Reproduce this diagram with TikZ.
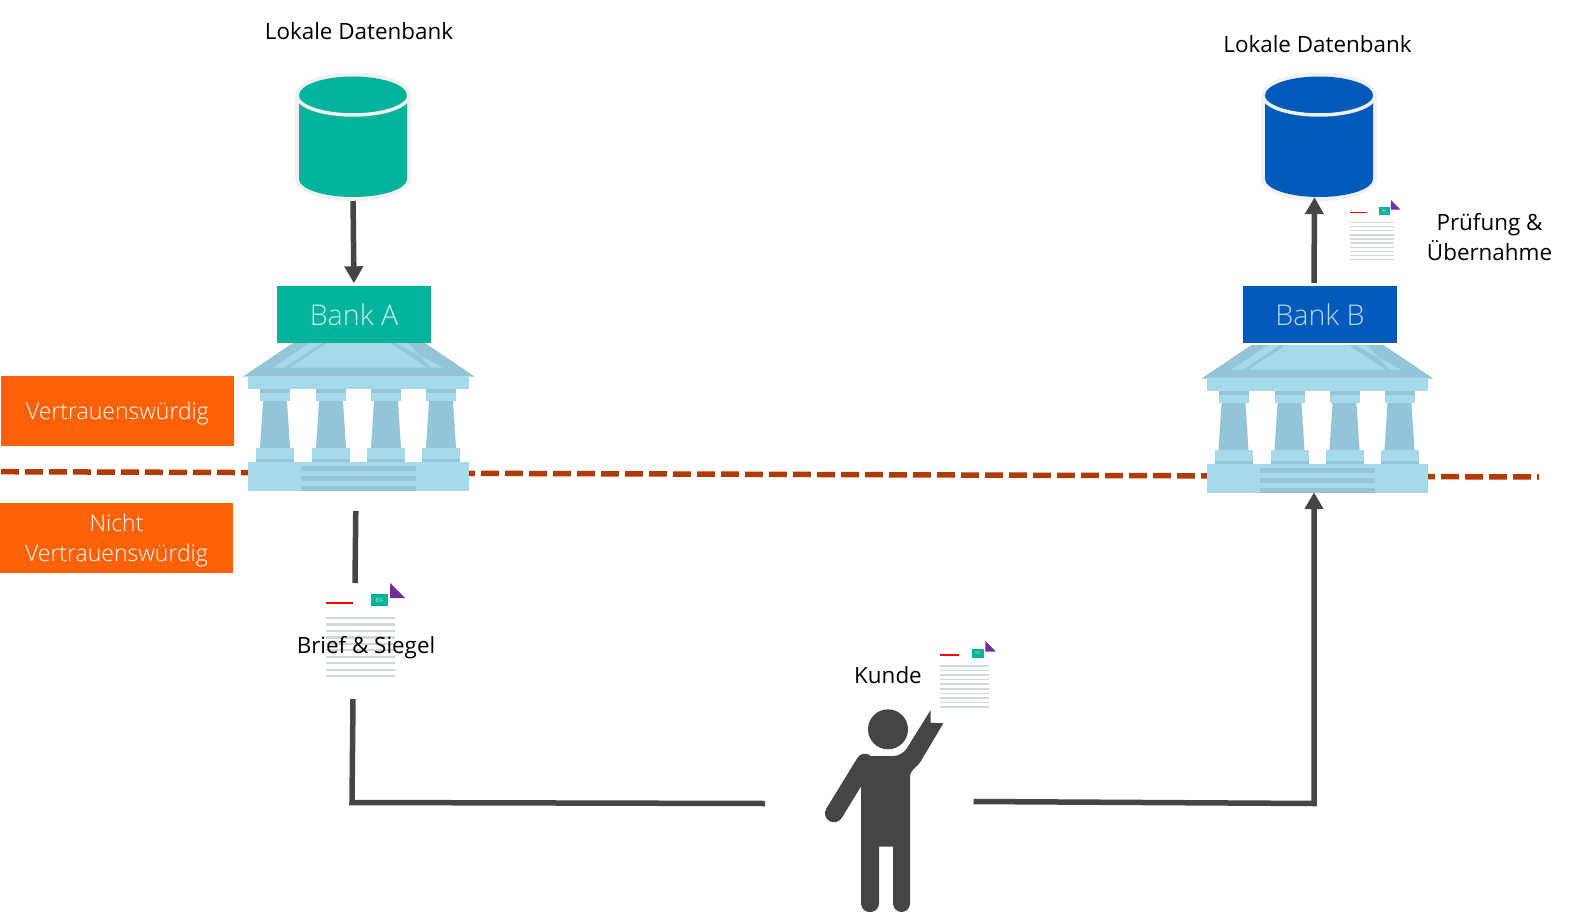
\documentclass[tikz,border=0pt]{standalone}
\usepackage{fontspec}
\setmainfont{Open Sans}
\newfontfamily\lightfont{Open Sans Light}
\usetikzlibrary{arrows.meta}
\definecolor{bankgreen}{HTML}{00B39A}
\definecolor{bankblue}{HTML}{005ABA}
\definecolor{roofdark}{HTML}{94C4D8}
\definecolor{rooflight}{HTML}{A6DAE9}
\definecolor{trustline}{HTML}{B03A00}
\definecolor{trustbox}{HTML}{FF6108}
\definecolor{connector}{HTML}{474445}
\definecolor{sheetline}{HTML}{CFD8DC}
\definecolor{sheetviolet}{HTML}{7030A0}
\tikzset{
  caption/.style={font=\fontsize{22.4}{30}\selectfont,align=center,inner sep=0pt},
  zonebox/.style={fill=trustbox,text=white,font=\lightfont\fontsize{23}{30}\selectfont,align=center,inner sep=0pt,text depth=0pt,minimum width=233pt,minimum height=69.5pt},
  bankbox/.style={inner sep=0pt,text height=22.4pt,minimum width=154pt,minimum height=57pt,font=\lightfont\fontsize{28.6}{32}\selectfont},
  hidden/.style={inner sep=0pt},
  conn/.style={draw=connector,line width=5.5pt},
  connarrow/.style={conn,-{Triangle[length=17pt,width=18pt]}}
}
% one column of the bank, x position in #1
\newcommand{\bankcolumn}[1]{
  \fill[rooflight] (#1+260,389) rectangle (#1+290,401);
  \fill[roofdark] (#1+260,389) rectangle (#1+290,393);
  \fill[roofdark] (#1+263,401) -- (#1+287,401) -- (#1+290,448) -- (#1+260,448) -- cycle;
  \fill[rooflight] (#1+256,448) rectangle (#1+294,462);
  \fill[roofdark] (#1+256,459) rectangle (#1+294,462);
}
% the bank building, shift in #1 and #2
\newcommand{\bankbuilding}[2]{
  \begin{scope}[shift={(#1,#2)}]
    \fill[roofdark] (293,343) -- (425,343) -- (475,376.7) -- (242.7,376.7) -- cycle;
    \fill[rooflight] (310,343) -- (322,343) -- (284,367.7) -- (273,367.7) -- cycle;
    \fill[rooflight] (408,343) -- (396,343) -- (443,367.7) -- (431,367.7) -- cycle;
    \fill[rooflight] (327,343) -- (390,343) -- (427,367.7) -- (290,367.7) -- cycle;
    \fill[rooflight] (248,376.7) rectangle (469,389);
    \foreach \col in {0,56,111,166} {\bankcolumn{\col}}
    \fill[rooflight] (248,462) rectangle (469,490.7);
    \foreach \row in {466,476,486} {\fill[roofdark] (301,\row) rectangle (416,\row+4.7);}
  \end{scope}
}
% database drum: centre x, top y, bottom y, colour
\newcommand{\database}[4]{
  \fill[black!6] (#1-58,#2) arc[start angle=180,end angle=0,x radius=58,y radius=-23] -- (#1+58,#3) arc[start angle=0,end angle=-180,x radius=58,y radius=-22] -- cycle;
  \fill[#4] (#1-54,#2) arc[start angle=180,end angle=0,x radius=54,y radius=-19] -- (#1+54,#3) arc[start angle=0,end angle=-180,x radius=54,y radius=-18] -- cycle;
  \draw[black!6,line width=3.5pt] (#1-56,#2) arc[start angle=180,end angle=360,x radius=56,y radius=-19.5];
}
% sheet with seal: name, x, y, scale
\newcommand{\sealsheet}[4]{
  \begin{scope}[shift={(#2,#3)},scale=#4]
    \fill[red] (0,19) rectangle (27,20.8);
    \node[transform shape,fill=bankgreen,text=white!65!bankgreen,minimum width=17pt,minimum height=12.5pt,inner sep=0pt,font=\fontsize{6}{7}\selectfont] (#1ba) at (53.5,17) {BA};
    \fill[sheetviolet] (64,0) -- (64,15) -- (79,15) -- cycle;
    \foreach \row in {0,...,9} {\fill[sheetline] (0,34+6.45*\row) rectangle (69,36.2+6.45*\row);}
  \end{scope}
}
\begin{document}
\begin{tikzpicture}[x=1pt,y=-1pt,line join=miter]
\useasboundingbox (0,0) rectangle (1577,912);
% boundary between the zones
\draw[trustline,line width=5.5pt,dash pattern=on 18pt off 6pt] (1,471.7) -- (1539,477);
\bankbuilding{0}{0}
\bankbuilding{958.5}{2}
\database{353}{95.5}{179}{bankgreen}
\database{1319}{95.5}{179}{bankblue}
\node[hidden,minimum width=108pt,minimum height=120pt] (dbA) at (353,137) {};
\node[hidden,minimum width=108pt,minimum height=120pt] (dbB) at (1319,137) {};
\node[bankbox,fill=bankgreen,text=white!80!bankgreen] (bankA) at (354,314.5) {Bank A};
\node[bankbox,fill=bankblue,text=white!75!bankblue] (bankB) at (1320,314.5) {Bank B};
\node[hidden,minimum width=221pt,minimum height=29pt] (baseA) at (358.5,476.5) {};
\node[hidden,minimum width=221pt,minimum height=29pt] (baseB) at (1318,477.5) {};
\node[zonebox] (trusted) at (117.5,411) {Vertrauenswürdig};
\node[zonebox] (untrusted) at (116.5,538) {Nicht\\Vertrauenswürdig};
\node[caption] (dbAlabel) at (359,31.5) {Lokale Datenbank};
\node[caption] (dbBlabel) at (1317.5,44.5) {Lokale Datenbank};
\sealsheet{sheetA}{326}{583}{1}
\sealsheet{sheetK}{940}{641}{0.71}
\sealsheet{sheetB}{1350}{200}{0.64}
\node[caption] (brief) at (366,647.5) {Brief \& Siegel};
\node[caption] (kundelabel) at (888,675.5) {Kunde};
\node[caption] (check) at (1489.5,237.5) {Prüfung \&\\Übernahme};
% customer
\fill[connector] (888,729.3) circle (20);
\draw[connector,line width=18pt,line cap=round] (865,762.7) -- (834,813.3);
\fill[connector,rounded corners=8.5pt] (868,756) -- (902,756) [sharp corners] -- (930.7,710) -- (930.7,722.7) -- (943.3,723.3) [rounded corners=6pt] -- (918,766) -- (910,771) [rounded corners=8.5pt] -- (910,912) -- (893,912) [sharp corners] -- (893,846.7) -- (879,846.7) [rounded corners=8.5pt] -- (879,912) -- (861,912) [sharp corners] -- (861,770) -- cycle;
\node[hidden,minimum width=125pt,minimum height=210pt] (kunde) at (869,807) {};
% connectors
\coordinate (cornerA) at (352,802.5);
\coordinate (cornerB) at (1314,803.5);
\coordinate (briefTop) at (355,583);
\coordinate (briefBottom) at (353,699);
\coordinate (kundeIn) at (765,803.5);
\coordinate (kundeOut) at (973.5,801.5);
\draw[connarrow,shorten <=4pt,shorten >=2.5pt] (dbA.south) -- (bankA.north);
\draw[connarrow,shorten <=3pt] ([xshift=-6pt]bankB.north) -- ([xshift=-4.5pt]dbB.south);
\draw[conn,shorten <=20pt] ([xshift=-2.5pt]baseA.south) -- (briefTop);
\draw[conn] (briefBottom) -- (cornerA) -- (kundeIn);
\draw[connarrow] (kundeOut) -- (cornerB) -- ([xshift=-4pt]baseB.south);
\end{tikzpicture}
\end{document}
